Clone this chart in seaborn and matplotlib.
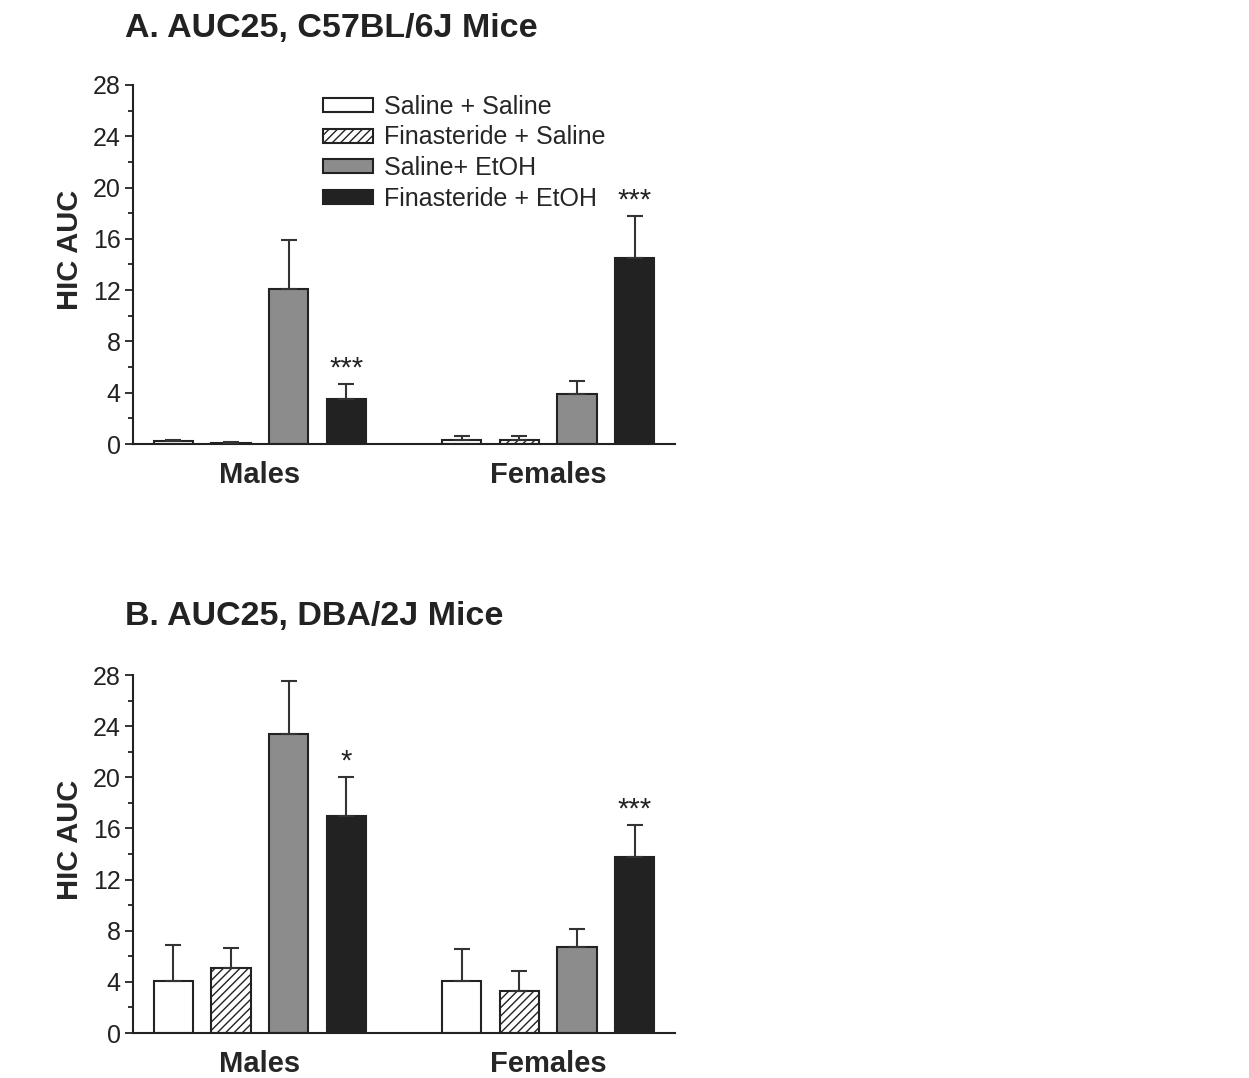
import pandas as pd
import matplotlib.pyplot as plt
from matplotlib.patches import Patch
from matplotlib.container import BarContainer
import seaborn as sns

# groups, sexes and the values
groups = ['Saline + Saline', 'Finasteride + Saline', 'Saline+ EtOH', 'Finasteride + EtOH']
sexes = ['Males', 'Females']

# panel A: C57BL/6J
a_males = [0.2, 0.1, 12.1, 3.55]
a_males_err = [0.12, 0.05, 3.8, 1.1]
a_females = [0.35, 0.35, 3.9, 14.5]
a_females_err = [0.3, 0.3, 1.05, 3.3]
a_stars = [['', '', '', '***'], ['', '', '', '***']]

# panel B: DBA/2J
b_males = [4.05, 5.1, 23.4, 17.0]
b_males_err = [2.8, 1.55, 4.1, 3.05]
b_females = [4.1, 3.3, 6.7, 13.8]
b_females_err = [2.45, 1.55, 1.45, 2.5]
b_stars = [['', '', '', '*'], ['', '', '', '***']]

colors = ['white', 'white', '#8c8c8c', '#222222']
hatches = ['', '////', '', '']

sns.set_style('ticks')
plt.rcParams['font.family'] = ['Liberation Sans', 'DejaVu Sans']
plt.rcParams['hatch.linewidth'] = 1.0
plt.rcParams['hatch.color'] = '#333333'


def make_df(males, females):
    rows = []
    for sex, vals in zip(sexes, [males, females]):
        for g, v in zip(groups, vals):
            rows.append({'sex': sex, 'group': g, 'auc': v})
    return pd.DataFrame(rows)


def draw_panel(ax, males, females, m_err, f_err, stars):
    df = make_df(males, females)
    sns.barplot(data=df, x='sex', y='auc', hue='group', order=sexes,
                hue_order=groups, palette=dict(zip(groups, colors)),
                edgecolor='#222222', linewidth=1.5, width=0.8, gap=0.32,
                errorbar=None, legend=False, ax=ax)
    errs = [m_err, f_err]
    bar_sets = [c for c in ax.containers if isinstance(c, BarContainer)]
    for i, cont in enumerate(bar_sets):
        for j, bar in enumerate(cont.patches):
            bar.set_hatch(hatches[i])
            x = bar.get_x() + bar.get_width() / 2
            top = bar.get_height()
            e = errs[j][i]
            ax.errorbar(x, top, yerr=[[0], [e]], fmt='none', ecolor='#333333',
                        elinewidth=1.5, capsize=6, capthick=1.5, zorder=3)
            if stars[j][i]:
                ax.text(x, top + e + 1.2, stars[j][i], ha='center', va='center',
                        fontsize=21, color='#222222')
    ax.set_xlim(-0.44, 1.44)
    ax.set_ylim(0, 28)
    ax.set_yticks(range(0, 29, 4))
    ax.set_yticks(range(2, 28, 4), minor=True)
    ax.tick_params(axis='y', which='major', length=6, width=1.3, labelsize=18,
                   pad=3, colors='#222222')
    ax.tick_params(axis='y', which='minor', length=3.5, width=1.3, colors='#222222')
    ax.tick_params(axis='x', length=0, pad=12, labelsize=21)
    for lbl in ax.get_xticklabels():
        lbl.set_fontweight('bold')
    ax.set_xlabel('')
    ax.set_ylabel('HIC AUC', fontsize=21, fontweight='bold')
    ax.yaxis.set_label_coords(-0.09, 0.54)
    sns.despine(ax=ax)
    for s in ['left', 'bottom']:
        ax.spines[s].set_linewidth(1.5)
        ax.spines[s].set_color('#222222')


fig = plt.figure(figsize=(12.49, 10.78), dpi=100)
axA = fig.add_axes([0.1065, 0.5881, 0.4340, 0.3331])
axB = fig.add_axes([0.1065, 0.0417, 0.4340, 0.3321])

draw_panel(axA, a_males, a_females, a_males_err, a_females_err, a_stars)
draw_panel(axB, b_males, b_females, b_males_err, b_females_err, b_stars)

fig.text(125 / 1249, 1 - 28 / 1078, 'A. AUC25, C57BL/6J Mice', ha='left', va='center',
         fontsize=24.5, fontweight='bold', color='#222222')
fig.text(125 / 1249, 1 - 616 / 1078, 'B. AUC25, DBA/2J Mice', ha='left', va='center',
         fontsize=24.5, fontweight='bold', color='#222222')

handles = [Patch(facecolor=c, edgecolor='#222222', hatch=h, linewidth=1.5)
           for c, h in zip(colors, hatches)]
axA.legend(handles, groups, loc='upper left', bbox_to_anchor=(323 / 1249, 1 - 95 / 1078),
           bbox_transform=fig.transFigure, frameon=False, fontsize=18,
           handlelength=2.0, handleheight=0.48, handletextpad=0.42,
           labelspacing=0.26, borderpad=0, borderaxespad=0)

fig.savefig('out.png', dpi=100, facecolor='white')
